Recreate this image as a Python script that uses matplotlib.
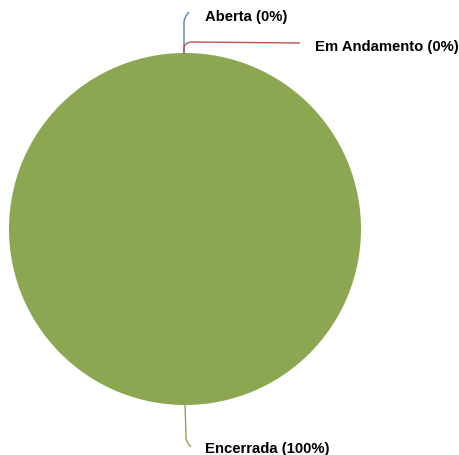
import numpy as np
import matplotlib.pyplot as plt

# -----------------------------
# Data
# -----------------------------
categories = ["Aberta", "Em Andamento", "Encerrada"]
values = [0, 0, 100]
colors = ["#4F81BD", "#C0504D", "#8CA752"]

# -----------------------------
# Figure in pixel units (y up)
# -----------------------------
W, H = 459, 456
fig = plt.figure(figsize=(W / 100, H / 100), dpi=100)
ax = fig.add_axes([0, 0, 1, 1])

cx, cy, r = 185, H - 230, 176
ax.pie(values, colors=colors, startangle=90, counterclock=False,
       center=(cx, cy), radius=r, frame=True,
       wedgeprops=dict(linewidth=0))
ax.set_xlim(0, W)
ax.set_ylim(0, H)
ax.set_aspect('auto')
ax.axis('off')

plt.rcParams['font.family'] = ['Liberation Sans', 'DejaVu Sans']

def py(y):
    return H - y

# leader lines (pixel coords from the top)
def leader(pts, color):
    xs = [p[0] for p in pts]
    ys = [py(p[1]) for p in pts]
    ax.plot(xs, ys, color=color, lw=1.0, solid_capstyle='butt')

t = np.linspace(0, 1, 12)
# Aberta
bx = [184.0, 184.0] + list(184 + 5 * t ** 2)
by = [55, 24] + list(24 - 11 * t)
leader(list(zip(bx, by)), colors[0])
# Em Andamento
rx = [184, 184] + list(184 + 8 * (1 - np.cos(t * np.pi / 2))) + [300]
ry = [55, 49] + list(49 - 6 * np.sin(t * np.pi / 2)) + [44]
leader(list(zip(rx, ry)), colors[1])
# Encerrada
gx = [185, 186] + list(186 + 5 * t ** 2)
gy = [405, 438] + list(438 + 10 * t)
leader(list(zip(gx, gy)), colors[2])

label_pos = [(205, 17), (315, 47), (205, 449)]
for name, v, (x, y) in zip(categories, values, label_pos):
    ax.text(x, py(y), f"{name} ({v}%)", fontsize=10.7, fontweight='bold',
            ha='left', va='center', color='black')

fig.savefig("out.png", dpi=100)
